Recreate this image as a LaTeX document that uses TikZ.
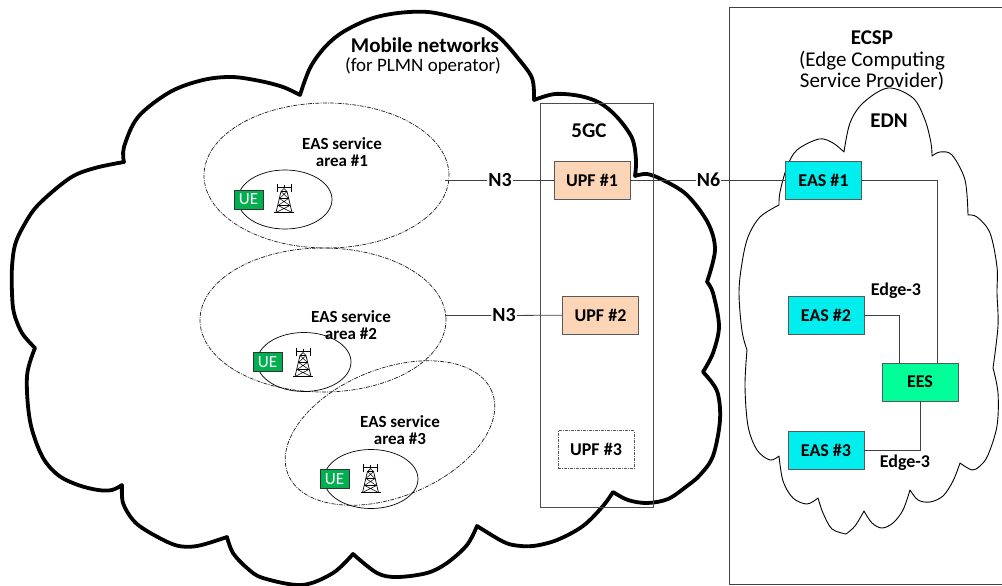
\documentclass[tikz,border=0pt]{standalone}
\usepackage{fontspec}
\setmainfont{Carlito}
\usetikzlibrary{calc,shapes.geometric}
\definecolor{upforange}{HTML}{FBD5B5}
\definecolor{eascyan}{HTML}{00EEEE}
\definecolor{eesgreen}{HTML}{00FF99}
\definecolor{uegreen}{HTML}{00B050}
\newcommand{\BoxW}{76pt}
\newcommand{\BoxH}{38pt}
\tikzset{Square/.style={
    inner sep=0pt,
    minimum width=\BoxW,
    minimum height=\BoxH,
    draw=black!65,
    line width=0.9pt,
    align=center,
    font=\fontsize{18}{20}\selectfont\bfseries,
    }
}
\tikzset{
    Label/.style={inner sep=0pt, align=center, font=\fontsize{17}{17}\selectfont\bfseries},
    BigLabel/.style={inner sep=0pt, align=center, font=\fontsize{21}{21}\selectfont\bfseries},
    NoteLabel/.style={inner sep=0pt, align=center, font=\fontsize{19}{21}\selectfont},
    Ue/.style={inner sep=0pt, minimum width=29pt, minimum height=19pt, draw=black!80, line width=0.8pt,
        fill=uegreen, text=white, font=\fontsize{17}{17}\selectfont},
    Cell/.style={ellipse, inner sep=0pt, minimum width=94pt, minimum height=59pt, draw=black, line width=0.7pt},
    Area/.style={ellipse, inner sep=0pt, draw=black!90, line width=0.7pt,
        dash pattern=on 4pt off 1.2pt on 1pt off 1.2pt},
    Line/.style={draw=black!75, line width=0.8pt},
    Tower/.pic={
        \draw[line width=0.6pt] (-10,14) -- (10,14);
        \draw[line width=0.7pt] (-8,14) -- (-3,-7) -- (0,-10) -- (3,-7) -- (8,14);
        \draw[line width=0.6pt] (-3,-7) -- (3,-7) (-4.5,0) -- (4.5,0) (-6,7) -- (6,7);
        \draw[line width=0.5pt] (-3,-7) -- (4.5,0) -- (-6,7) -- (8,14) (3,-7) -- (-4.5,0) -- (6,7) -- (-8,14);
        \draw[line width=0.6pt] (-7,-11) -- (7,-11) (-7,-15) -- (-7,-7) (7,-15) -- (7,-7) (0,-11) -- (0,-14);
    },
}
\begin{document}
\begin{tikzpicture}[x=1pt,y=-1pt]
\useasboundingbox (0,0) rectangle (1002,586);
% clouds
\draw[line width=3.8pt, line join=round]
    plot[smooth,tension=0.55] coordinates {(300,95) (310,68) (325,47) (343,32) (370,19) (398,13) (428,12) (457,18) (483,26) (500,38) (517,57) (532,78) (534,100)}
    -- plot[smooth,tension=0.55] coordinates {(534,100) (555,94) (580,96) (600,103) (617,117) (632,138) (636,160) (635,176)}
    -- plot[smooth,tension=0.55] coordinates {(635,176) (647,174) (663,180) (687,195) (708,223) (715,250) (707,282)}
    -- plot[smooth,tension=0.55] coordinates {(707,282) (713,293) (719,326) (713,353) (703,372)}
    -- plot[smooth,tension=0.55] coordinates {(703,372) (717,391) (720,420) (713,456) (700,475) (687,486) (668,499) (647,503) (628,500) (613,492)}
    -- plot[smooth,tension=0.55] coordinates {(613,492) (603,506) (583,526) (557,540) (533,546) (513,545) (500,540) (477,526)}
    -- plot[smooth,tension=0.55] coordinates {(477,526) (467,545) (447,563) (427,573) (397,577) (377,573) (353,554)}
    -- plot[smooth,tension=0.55] coordinates {(353,554) (333,573) (302,585) (263,578) (247,568) (233,553) (227,537)}
    -- plot[smooth,tension=0.55] coordinates {(227,537) (197,546) (175,545) (147,531) (133,520) (123,503) (122,485)}
    -- plot[smooth,tension=0.55] coordinates {(122,485) (112,490) (98,490) (78,485) (58,475) (42,456) (30,421) (27,376) (35,348)}
    -- plot[smooth,tension=0.55] coordinates {(35,348) (22,333) (14,313) (12,293) (12,267) (15,245) (23,227) (38,205) (70,178) (95,168) (124,162)}
    -- plot[smooth,tension=0.55] coordinates {(124,162) (124,147) (138,117) (170,92) (203,80) (232,77) (260,81) (283,87) (300,95)}
    -- cycle;
\draw[line width=0.9pt, line join=round]
    plot[smooth,tension=0.55] coordinates {(844,152) (850,123) (863,103) (888,88) (913,98) (925,120) (931,143) (932,156)}
    -- plot[smooth,tension=0.55] coordinates {(932,156) (940,152) (952,155) (965,180) (968,215)}
    -- plot[smooth,tension=0.55] coordinates {(968,215) (977,217) (990,233) (997,267) (997,293) (998,326) (993,368)}
    -- plot[smooth,tension=0.55] coordinates {(993,368) (998,393) (997,426) (988,455) (980,466) (972,470) (960,463)}
    -- plot[smooth,tension=0.55] coordinates {(960,463) (953,481) (943,496) (930,502) (918,500) (910,490)}
    -- plot[smooth,tension=0.55] coordinates {(910,490) (903,510) (893,523) (882,528) (872,523) (864,511)}
    -- plot[smooth,tension=0.55] coordinates {(864,511) (855,526) (846,534)}
    -- plot[smooth,tension=0.55] coordinates {(846,534) (832,529) (823,513) (818,498)}
    -- plot[smooth,tension=0.55] coordinates {(818,498) (807,504) (793,498) (783,481) (779,456)}
    -- plot[smooth,tension=0.55] coordinates {(779,456) (770,460) (757,450) (748,426) (745,386) (747,350)}
    -- plot[smooth,tension=0.55] coordinates {(747,350) (742,331) (739,293) (742,263) (748,237) (760,217) (779,205)}
    -- plot[smooth,tension=0.55] coordinates {(779,205) (780,192) (787,167) (797,150) (819,139) (833,143) (844,152)}
    -- cycle;
% boxes
\draw[Line] (1002,7) -| (729,584) -- (1002,584);
\node [draw=black!70, line width=0.8pt, minimum width=113pt, minimum height=404pt, inner sep=0pt] (fiveGC) at (596.5,305) {};
% service areas
\node [Area, minimum width=245pt, minimum height=145pt] (area1) at (326.5,175.5) {};
\node [Area, minimum width=246pt, minimum height=144pt] (area2) at (323,320) {};
\node [Area, minimum width=220pt, minimum height=128pt, rotate=22] (area3) at (390,433) {};
\node [Cell] (cell1) at (285,199.5) {};
\node [Cell] (cell2) at (304,362) {};
\node [Cell] (cell3) at (371,479) {};
\node [Ue] (ue1) at (248.5,199.5) {UE};
\node [Ue] (ue2) at (267.5,362) {UE};
\node [Ue] (ue3) at (334.5,479) {UE};
\pic at (284,198.5) {Tower};
\pic at (303,362.5) {Tower};
\pic at (370.5,478.5) {Tower};
\node [Label] (areatext1) at (342,152.5) {EAS service\\area \#1};
\node [Label] (areatext2) at (351,325.5) {EAS service\\area \#2};
\node [Label] (areatext3) at (400,430) {EAS service\\area \#3};
% functions
\node [Square, fill=upforange] (upf1) at (592,180) {UPF \#1};
\node [Square, fill=upforange] (upf2) at (600.5,315) {UPF \#2};
\node [Square, dash pattern=on 3pt off 1pt on 1pt off 1pt, line width=0.7pt] (upf3) at (596,449.5) {UPF \#3};
\node [Square, fill=eascyan] (eas1) at (823.5,180) {EAS \#1};
\node [Square, fill=eascyan] (eas2) at (826,315.5) {EAS \#2};
\node [Square, fill=eascyan] (eas3) at (826,450) {EAS \#3};
\node [Square, fill=eesgreen] (ees) at (920,382) {EES};
% texts
\node [BigLabel] (mobile) at (425,45) {Mobile networks};
\node [NoteLabel] (plmn) at (423,66) {(for PLMN operator)};
\node [BigLabel] (ecsp) at (872,38) {ECSP};
\node [NoteLabel, font=\fontsize{21}{21}\selectfont] (provider) at (872,70.5) {(Edge Computing\\Service Provider)};
\node [BigLabel] (edn) at (889,121) {EDN};
\node [BigLabel] (core) at (589,131) {5GC};
\node [Label, font=\fontsize{18}{18}\selectfont\bfseries] (edgeA) at (896,291) {Edge-3};
\node [Label, font=\fontsize{18}{18}\selectfont\bfseries] (edgeB) at (905,463) {Edge-3};
\node [BigLabel, font=\fontsize{20}{20}\selectfont\bfseries, fill=white, inner xsep=1pt] (n3a) at (500,180) {N3};
\node [BigLabel, font=\fontsize{20}{20}\selectfont\bfseries, fill=white, inner xsep=1pt] (n3b) at (504,315.5) {N3};
\node [BigLabel, font=\fontsize{20}{20}\selectfont\bfseries, fill=white, inner xsep=1pt] (n6) at (708.5,180) {N6};
% connectors
\coordinate (areaA) at (445,180);
\coordinate (areaB) at (445,315.5);
\draw[Line] (areaA) -- (n3a) -- (upf1);
\draw[Line] (areaB) -- (n3b) -- (upf2);
\draw[Line] (upf1) -- (n6) -- (eas1);
\draw[Line] (eas1.east) -| ($(ees.north)+(17,0)$);
\draw[Line] (eas2.east) -| ($(ees.north)+(-21,0)$);
\draw[Line] (eas3.east) -| (ees.south);
\end{tikzpicture}
\end{document}
